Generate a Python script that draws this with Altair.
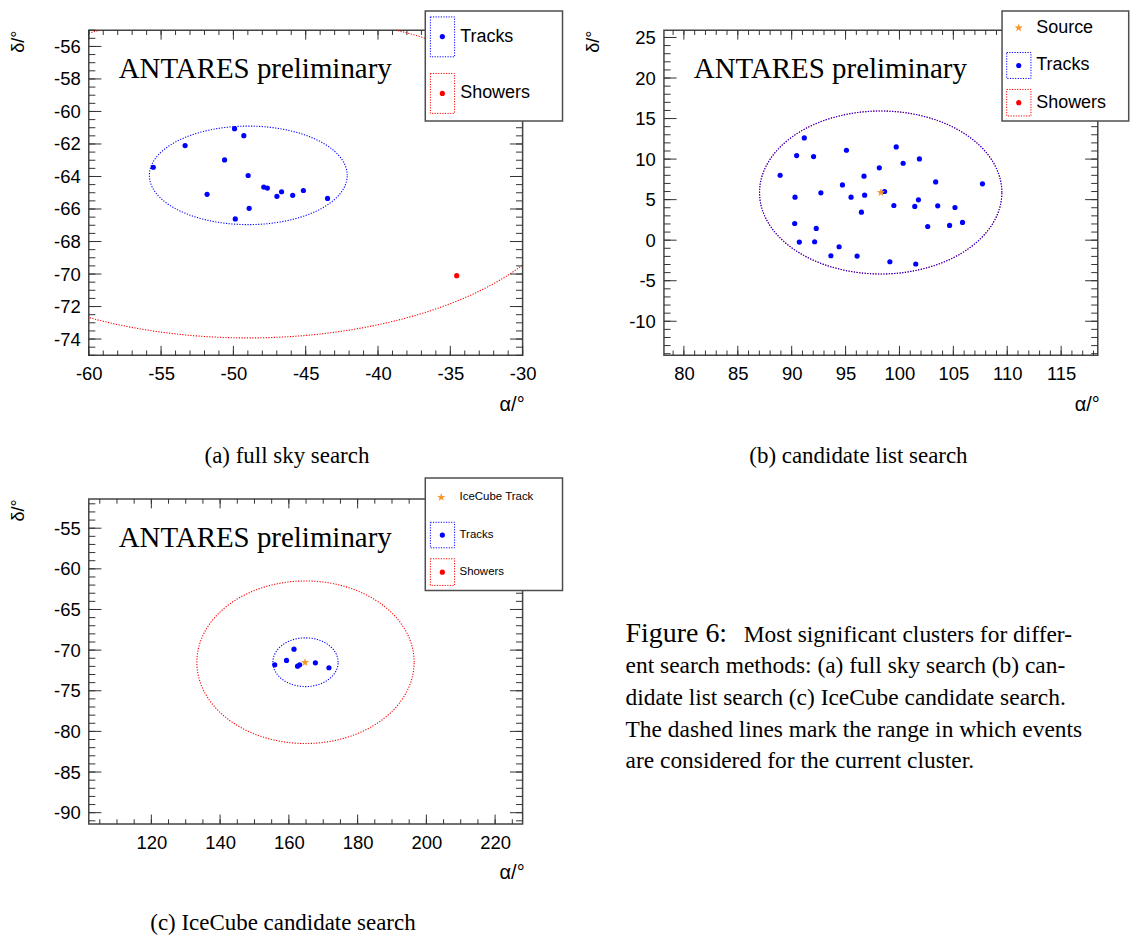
import altair as alt
import numpy as np
import pandas as pd

W, H = 435, 326

# ---------------- (a) full sky search ----------------
A_TRACK_RA = [-55.54, -53.34, -51.82, -50.61, -49.92, -49.28, -49.87, -48.98,
              -48.91, -47.90, -47.65, -46.99, -46.67, -45.90, -45.16, -43.49]
A_TRACK_DEC = [-63.43, -62.10, -65.10, -62.98, -61.06, -61.49, -66.61, -63.94,
               -65.96, -64.65, -64.71, -65.22, -64.94, -65.16, -64.86, -65.35]
A_SHOWER_RA = [-34.56]
A_SHOWER_DEC = [-70.10]
A_CENTER = [-48.97, -63.93]
A_TRACK_RANGE = [6.84, 3.03]
A_SHOWER_RANGE = [22.75, 10.0]
A_XDOM = [-60, -30]
A_YDOM = [-75, -55]

# ---------------- (b) candidate list search ----------------
B_TRACK_RA = [91.17, 90.46, 92.03, 95.08, 99.70, 100.34, 101.85, 98.13, 88.93,
              96.71, 94.71, 103.36, 107.70, 90.31, 92.71, 95.51, 96.77, 98.62,
              99.48, 101.42, 101.76, 103.55, 105.15, 96.47, 90.28, 92.28,
              102.62, 104.65, 105.85, 90.71, 92.13, 94.40, 93.64, 96.07,
              99.11, 101.51]
B_TRACK_DEC = [12.61, 10.43, 10.31, 11.09, 11.50, 9.49, 10.02, 8.92, 8.01,
               7.89, 6.82, 7.19, 6.95, 5.31, 5.84, 5.31, 5.55, 6.00,
               4.28, 4.16, 4.98, 4.24, 4.03, 3.46, 2.06, 1.45,
               1.69, 1.82, 2.19, -0.23, -0.19, -0.81, -1.92, -1.96,
               -2.66, -2.94]
B_SOURCE = [98.28, 5.88]
B_CENTER = [98.26, 5.88]
B_TRACK_RANGE = [11.24, 10.05]
B_SHOWER_RANGE = [11.24, 10.05]
B_XDOM = [78.15, 118.4]
B_YDOM = [-14.2, 25.9]

# ---------------- (c) IceCube candidate search ----------------
C_TRACK_RA = [155.89, 159.32, 161.49, 162.53, 163.15, 167.72, 171.66]
C_TRACK_DEC = [-71.81, -71.27, -69.88, -71.97, -71.81, -71.56, -72.17]
C_SOURCE = [164.71, -71.52]
C_CENTER = [164.84, -71.49]
C_TRACK_RANGE = [9.49, 3.0]
C_SHOWER_RANGE = [31.6, 10.0]
C_XDOM = [101.8, 228.0]
C_YDOM = [-91.4, -51.4]

CAPTIONS = ["(a) full sky search", "(b) candidate list search", "(c) IceCube candidate search"]
FIG_LINES = ["ent search methods: (a) full sky search (b) can-",
             "didate list search (c) IceCube candidate search.",
             "The dashed lines mark the range in which events",
             "are considered for the current cluster."]

BLUE, RED, ORANGE, TICK = "#0000ff", "#ff0000", "#f8952a", "#333333"
STAR = ("M0,-1L0.235,-0.324L0.951,-0.309L0.38,0.124L0.588,0.809L0,0.4"
        "L-0.588,0.809L-0.38,0.124L-0.951,-0.309L-0.235,-0.324Z")
SANS, SERIF = "Liberation Sans", "Liberation Serif"
ONE = pd.DataFrame({"k": [0]})
LBL = "datum.value < 0 ? '-' + abs(datum.value) : '' + datum.value"
DOT = 27
STAR_SIZE = 75


def sc(dom):
    return alt.Scale(domain=dom, nice=False, zero=False)


def tick_vals(dom, step):
    start = np.ceil(dom[0] / step - 1e-9) * step
    return [round(float(v), 6) for v in np.arange(start, dom[1] + 1e-9, step)]


def ellipse(center, rng):
    t = np.linspace(0, 2 * np.pi, 721)
    return pd.DataFrame({"x": center[0] + rng[0] * np.cos(t),
                         "y": center[1] + rng[1] * np.sin(t),
                         "i": np.arange(len(t))})


def vtext(x, y, text, size, font=SANS, align="left", baseline="middle"):
    return alt.Chart(ONE).mark_text(text=text, font=font, fontSize=size, align=align,
                                    baseline=baseline, color="black").encode(
        x=alt.value(x), y=alt.value(y))


def vrect(x1, x2, y1, y2, **kw):
    return alt.Chart(ONE).mark_rect(**kw).encode(
        x=alt.value(x1), x2=alt.value(x2), y=alt.value(y1), y2=alt.value(y2))


def vdot(x, y, color):
    return alt.Chart(ONE).mark_circle(size=DOT, color=color, opacity=1).encode(
        x=alt.value(x), y=alt.value(y))


def vstar(x, y):
    return alt.Chart(ONE).mark_point(shape=STAR, filled=True, size=STAR_SIZE, color=ORANGE,
                                     opacity=1).encode(x=alt.value(x), y=alt.value(y))


def panel(xdom, ydom, xmaj, xmin, ymaj, ymin, center, trk_rng, shw_rng,
          tracks, showers, star, legend, caption, cap_y, extra=None):
    xs, ys = sc(xdom), sc(ydom)
    xaxis = alt.Axis(values=tick_vals(xdom, xmaj), labelExpr=LBL, ticks=False, tickSize=0,
                     domain=False, grid=False, labelFont=SANS, labelFontSize=18.5,
                     labelColor="black", labelPadding=9.2, labelOverlap=False,
                     labelFlush=False, title="α/°", titleX=W + 1.5, titleY=55,
                     titleAlign="right", titleBaseline="alphabetic", titleFont=SANS,
                     titleFontSize=20, titleFontWeight="normal", titleColor="black")
    yaxis = alt.Axis(values=tick_vals(ydom, ymaj), labelExpr=LBL, ticks=False, tickSize=0,
                     domain=False, grid=False, labelFont=SANS, labelFontSize=18.5,
                     labelColor="black", labelPadding=8.6, labelOverlap=False,
                     labelFlush=False, title="δ/°", titleAngle=270, titleX=-65.5,
                     titleY=0, titleAlign="right", titleBaseline="alphabetic",
                     titleFont=SANS, titleFontSize=18, titleFontWeight="normal",
                     titleColor="black")

    def X(f):
        return alt.X(f, scale=xs, axis=xaxis)

    def Y(f):
        return alt.Y(f, scale=ys, axis=yaxis)

    layers = []
    for rng, col in ((shw_rng, RED), (trk_rng, BLUE)):
        layers.append(alt.Chart(ellipse(center, rng)).mark_line(
            clip=True, color=col, strokeWidth=1.1, strokeDash=[1.2, 1.5]).encode(
            x=X("x:Q"), y=Y("y:Q"), order="i:Q"))
    tdf = pd.DataFrame({"ra": tracks[0], "dec": tracks[1]})
    layers.append(alt.Chart(tdf).mark_circle(size=DOT, color=BLUE, opacity=1).encode(
        x=X("ra:Q"), y=Y("dec:Q")))
    if showers:
        sdf = pd.DataFrame({"ra": showers[0], "dec": showers[1]})
        layers.append(alt.Chart(sdf).mark_circle(size=DOT, color=RED, opacity=1).encode(
            x=X("ra:Q"), y=Y("dec:Q")))
    if star:
        stdf = pd.DataFrame({"ra": [star[0]], "dec": [star[1]]})
        layers.append(alt.Chart(stdf).mark_point(shape=STAR, filled=True, size=STAR_SIZE,
                                                 color=ORANGE, opacity=1).encode(
            x=X("ra:Q"), y=Y("dec:Q")))
    # inside ticks on all four sides
    for vals, L in ((tick_vals(xdom, xmaj), 9.5), (tick_vals(xdom, xmin), 4.8)):
        d = pd.DataFrame({"v": vals})
        for y0, y1 in ((H, H - L), (0, L)):
            layers.append(alt.Chart(d).mark_rule(color=TICK, strokeWidth=1).encode(
                x=X("v:Q"), y=alt.value(y0), y2=alt.value(y1)))
    for vals, L in ((tick_vals(ydom, ymaj), 12.7), (tick_vals(ydom, ymin), 6.6)):
        d = pd.DataFrame({"v": vals})
        for x0, x1 in ((0, L), (W, W - L)):
            layers.append(alt.Chart(d).mark_rule(color=TICK, strokeWidth=1).encode(
                y=Y("v:Q"), x=alt.value(x0), x2=alt.value(x1)))
    layers.append(vtext(30, 47.7, "ANTARES preliminary", 29, font=SERIF, baseline="alphabetic"))
    # legend
    bx1, bx2, by1, by2 = legend["box"]
    layers.append(vrect(bx1, bx2, by1, by2, fill="white", stroke="#4d4d4d", strokeWidth=1.5))
    for e in legend["entries"]:
        kind, ex, ey, label = e["kind"], e["x"], e["y"], e["label"]
        if kind == "star":
            layers.append(vstar(ex, ey))
        else:
            col = BLUE if kind == "track" else RED
            layers.append(vrect(ex - 12, ex + 12.3, e["box"][0], e["box"][1], fill=None,
                                stroke=col, strokeWidth=1, strokeDash=[1.2, 1.4]))
            layers.append(vdot(ex, ey, col))
        layers.append(vtext(e["tx"], ey, label, legend["font"]))
    layers.append(vtext(caption[0], cap_y, caption[1], 23, font=SERIF, align="center",
                        baseline="alphabetic"))
    if extra:
        layers.extend(extra)
    return alt.layer(*layers).properties(width=W, height=H)


legend_a = {"box": [337.4, 475, -19.2, 91], "font": 18, "entries": [
    {"kind": "track", "x": 354.5, "y": 6.4, "tx": 372.4, "label": "Tracks", "box": [-13.3, 26.7]},
    {"kind": "shower", "x": 354.5, "y": 63.4, "tx": 372.4, "label": "Showers", "box": [43.4, 83.4]},
]}
legend_b = {"box": [339, 466, -19.2, 91], "font": 18, "entries": [
    {"kind": "star", "x": 355.7, "y": -2.3, "tx": 373.3, "label": "Source"},
    {"kind": "track", "x": 355.7, "y": 35.4, "tx": 373.3, "label": "Tracks", "box": [22.4, 48.4]},
    {"kind": "shower", "x": 355.7, "y": 72.7, "tx": 373.3, "label": "Showers", "box": [59.4, 86]},
]}
legend_c = {"box": [337.4, 475, -21, 91.7], "font": 11.5, "entries": [
    {"kind": "star", "x": 353.4, "y": -1.6, "tx": 371.7, "label": "IceCube Track"},
    {"kind": "track", "x": 354.5, "y": 36.2, "tx": 371.7, "label": "Tracks", "box": [23.4, 49]},
    {"kind": "shower", "x": 354.5, "y": 73.4, "tx": 371.7, "label": "Showers", "box": [60, 86.7]},
]}

fig_text = [vtext(538.2, 143.4, "Figure 6:", 28, font=SERIF, baseline="alphabetic"),
            vtext(656.7, 143.4, "Most significant clusters for differ-", 23.5, font=SERIF,
                  baseline="alphabetic")]
for k, line in enumerate(FIG_LINES):
    fig_text.append(vtext(538.2, 175.0 + 31.65 * k, line, 23.5, font=SERIF,
                          baseline="alphabetic"))

pa = panel(A_XDOM, A_YDOM, 5, 1, 2, 0.5, A_CENTER, A_TRACK_RANGE, A_SHOWER_RANGE,
           (A_TRACK_RA, A_TRACK_DEC), (A_SHOWER_RA, A_SHOWER_DEC), None, legend_a,
           (198.7, CAPTIONS[0]), 433.7)
pb = panel(B_XDOM, B_YDOM, 5, 1, 5, 1, B_CENTER, B_TRACK_RANGE, B_SHOWER_RANGE,
           (B_TRACK_RA, B_TRACK_DEC), None, B_SOURCE, legend_b,
           (195, CAPTIONS[1]), 433.7)
pc = panel(C_XDOM, C_YDOM, 20, 5, 5, 1, C_CENTER, C_TRACK_RANGE, C_SHOWER_RANGE,
           (C_TRACK_RA, C_TRACK_DEC), None, C_SOURCE, legend_c,
           (194.7, CAPTIONS[2]), 432.5, extra=fig_text)

chart = alt.concat(pa, pb, pc, columns=2, spacing={"row": 144, "column": 141.7},
                   bounds="flush").properties(
    padding={"left": 0, "top": 0, "right": 0, "bottom": 0},
    background="white",
).configure_view(stroke="#444444", strokeWidth=1.5)

chart.save("out.html", embed_options={"renderer": "svg", "actions": False})
